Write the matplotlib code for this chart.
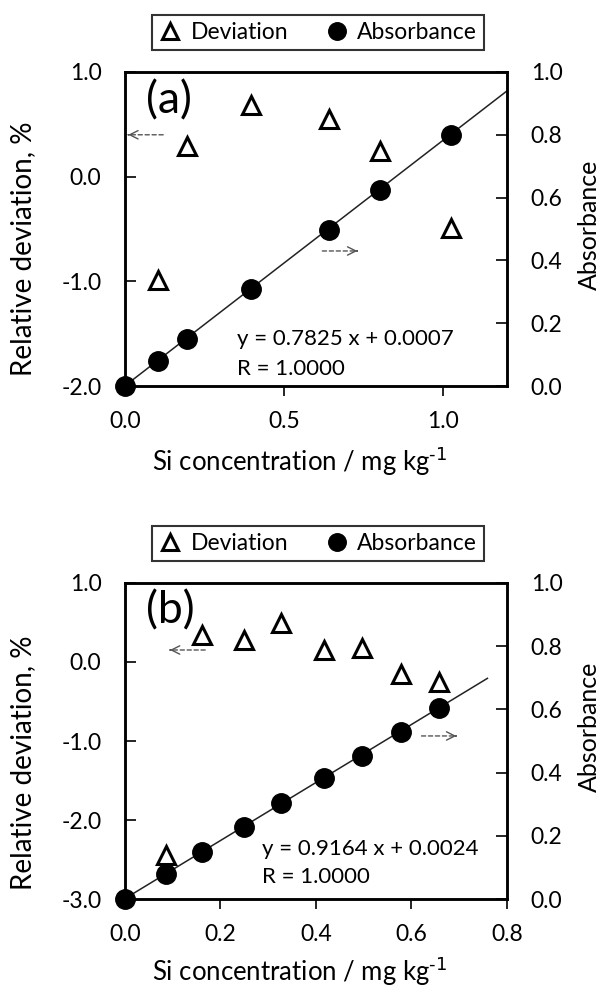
import numpy as np
import matplotlib.pyplot as plt

plt.rcParams['font.family'] = ['Lato', 'DejaVu Sans']

# panel (a)
xa_dev = [0.105, 0.196, 0.396, 0.640, 0.800, 1.024]
ya_dev = [-0.99, 0.29, 0.68, 0.55, 0.245, -0.49]
xa_abs = [0.0, 0.105, 0.196, 0.396, 0.640, 0.800, 1.024]
ya_abs = [0.0, 0.080, 0.149, 0.308, 0.497, 0.624, 0.800]
fit_a = (0.7825, 0.0007)

# panel (b)
xb_dev = [0.085, 0.162, 0.249, 0.327, 0.417, 0.496, 0.577, 0.658]
yb_dev = [-2.44, 0.34, 0.27, 0.485, 0.15, 0.17, -0.15, -0.25]
xb_abs = [0.0, 0.085, 0.162, 0.249, 0.327, 0.417, 0.496, 0.577, 0.658]
yb_abs = [0.0, 0.079, 0.148, 0.229, 0.303, 0.384, 0.453, 0.527, 0.603]
fit_b = (0.9164, 0.0024)

fig = plt.figure(figsize=(6, 9.9), dpi=100)


def arrow(ax, tail, tip):
    ax.annotate('', xy=tip, xytext=tail,
                arrowprops=dict(arrowstyle='-', ls=(0, (3, 2)), lw=1, color='#555555',
                                shrinkA=0, shrinkB=0))
    ax.annotate('', xy=tip, xytext=(tip[0] - 0.001 * np.sign(tip[0] - tail[0]), tip[1]),
                arrowprops=dict(arrowstyle='->,head_length=0.6,head_width=0.3', lw=1,
                                color='#555555', shrinkA=0, shrinkB=0))


def panel(rect, xd, yd, xa, ya, fit, xmax, xline, ylo, xticks, yticks, tag,
          eq_pos, lab_pos, arr_l, arr_r):
    ax = fig.add_axes(rect)
    ax2 = ax.twinx()
    ax.set_zorder(ax2.get_zorder() + 1)
    ax.patch.set_visible(False)

    ax.plot(xd, yd, ls='none', marker='^', ms=13, mfc='white', mec='black', mew=2.2,
            label='Deviation')
    xl = np.array([0, xline])
    ax2.plot(xl, fit[0] * xl + fit[1], color='#222222', lw=1.1)
    ax2.plot(xa, ya, ls='none', marker='o', ms=14, color='black', label='Absorbance',
             clip_on=False, zorder=5)

    ax.set_xlim(0, xmax)
    ax.set_ylim(ylo, 1.0)
    ax2.set_ylim(0, 1.0)
    ax.set_xticks(xticks)
    ax.set_xticklabels([f'{t:.1f}' for t in xticks])
    ax.set_yticks(yticks)
    ax.set_yticklabels([f'{t:.1f}' for t in yticks])
    ax2.set_yticks(np.arange(0, 1.01, 0.2))
    ax2.set_yticklabels([f'{t:.1f}' for t in np.arange(0, 1.01, 0.2)])

    ax.tick_params(axis='y', direction='in', length=8, width=1.2, labelsize=16.5, pad=17)
    ax.tick_params(axis='x', direction='out', length=7, width=1.2, labelsize=16.5, pad=11)
    ax2.tick_params(axis='y', direction='in', length=8, width=1.2, labelsize=16.5, pad=17)
    for a in (ax, ax2):
        for s in a.spines.values():
            s.set_linewidth(1.8)

    ax.set_xlabel(r'Si concentration / mg kg$^{\text{-1}}$', fontsize=18.5, va='top')
    ax.xaxis.set_label_coords(0.458, lab_pos[2])
    ax.set_ylabel('Relative deviation, %', fontsize=20, va='center')
    ax.yaxis.set_label_coords(-0.267, lab_pos[0])
    ax2.set_ylabel('Absorbance', fontsize=18, va='center')
    ax2.yaxis.set_label_coords(1.217, lab_pos[1])

    ax.text(0.055, 0.975, tag, transform=ax.transAxes, fontsize=32, va='top', ha='left')
    ax.text(eq_pos[0], eq_pos[1], f'y = {fit[0]:.4f} x + {fit[1]:.4f}',
            transform=ax.transAxes, fontsize=16, va='baseline', ha='left')
    ax.text(eq_pos[0], eq_pos[2], 'R = 1.0000',
            transform=ax.transAxes, fontsize=16, va='baseline', ha='left')

    arrow(ax, *arr_l)
    arrow(ax2, *arr_r)

    h1, l1 = ax.get_legend_handles_labels()
    h2, l2 = ax2.get_legend_handles_labels()
    leg = ax.legend(h1 + h2, l1 + l2, ncol=2, loc='lower center',
                    bbox_to_anchor=(0.505, 1.07), borderaxespad=0, fontsize=16.5,
                    frameon=True, fancybox=False, edgecolor='black', handletextpad=0.4,
                    columnspacing=1.6, borderpad=0.3, handlelength=1.0, markerscale=0.9)
    leg.get_frame().set_linewidth(1.5)
    return ax


panel([0.2083, 0.6101, 0.6367, 0.3172], xa_dev, ya_dev, xa_abs, ya_abs, fit_a,
      1.2, 1.2, -2.0, [0.0, 0.5, 1.0], [-2.0, -1.0, 0.0, 1.0], '(a)',
      (0.293, 0.131, 0.035), (0.436, 0.513, -0.185),
      ((0.12, 0.40), (0.01, 0.40)), ((0.62, 0.43), (0.73, 0.43)))

panel([0.2083, 0.0916, 0.6367, 0.3198], xb_dev, yb_dev, xb_abs, yb_abs, fit_b,
      0.8, 0.759, -3.0, [0.0, 0.2, 0.4, 0.6, 0.8], [-3.0, -2.0, -1.0, 0.0, 1.0], '(b)',
      (0.358, 0.14, 0.05), (0.43, 0.544, -0.175),
      ((0.168, 0.15), (0.094, 0.15)), ((0.621, 0.516), (0.694, 0.516)))

fig.savefig('out.png', dpi=100)
